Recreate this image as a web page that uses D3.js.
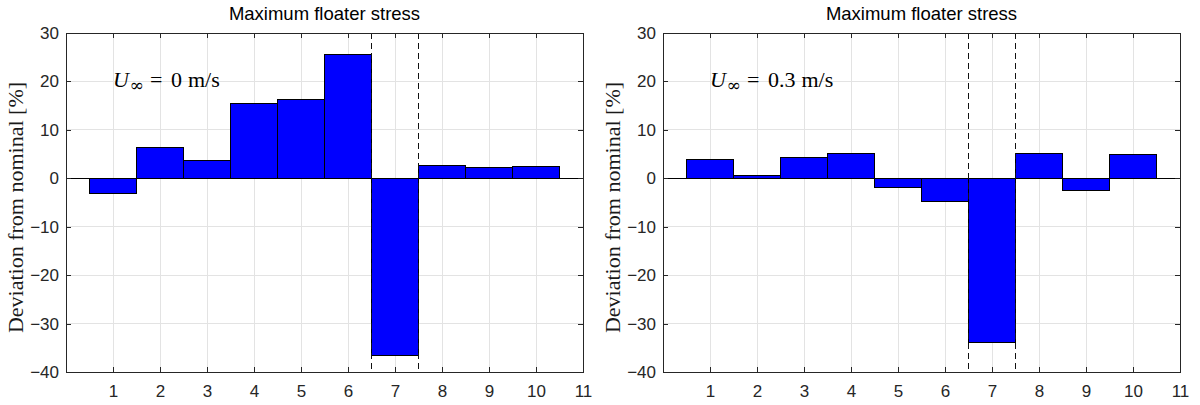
<!DOCTYPE html>
<html>
<head>
<meta charset="utf-8">
<script src="https://cdn.jsdelivr.net/npm/d3@7"></script>
<style>
  html, body { margin: 0; padding: 0; background: #fff; }
  svg { display: block; }
</style>
</head>
<body>
<svg id="chart" width="1200" height="405"></svg>
<script>
// Floater positions along the structure
const categories = [1, 2, 3, 4, 5, 6, 7, 8, 9, 10];
// Deviation of maximum floater stress from the nominal case [%]
const deviationStill = [-3.1, 6.4, 3.7, 15.4, 16.2, 25.5, -36.5, 2.6, 2.3, 2.4];
const deviationCurrent = [3.8, 0.6, 4.2, 5.1, -1.9, -4.8, -34.0, 5.1, -2.5, 4.9];
// Current speeds shown in the annotations
const currentSpeeds = ["0", "0.3"];
const panelTitles = ["Maximum floater stress", "Maximum floater stress"];
const xTicks = [1, 2, 3, 4, 5, 6, 7, 8, 9, 10, 11];
const yTicks = [-40, -30, -20, -10, 0, 10, 20, 30];
const xDomain = [0, 11];
const yDomain = [-40, 30];
// Edges of the highlighted floater
const highlightEdges = [6.5, 7.5];
const yLabel = "Deviation from nominal [%]";

const svg = d3.select("#chart");
svg.append("rect").attr("width", 1200).attr("height", 405).attr("fill", "#fff");

const axisColor = "#262626";
const sans = "'Liberation Sans', Arial, Helvetica, sans-serif";
const serif = "'Liberation Serif', 'Times New Roman', serif";

const panels = [
  { left: 66, right: 583, values: deviationStill, speed: currentSpeeds[0], title: panelTitles[0] },
  { left: 663, right: 1180, values: deviationCurrent, speed: currentSpeeds[1], title: panelTitles[1] }
];
const plotTop = 33, plotBottom = 372;

panels.forEach(p => {
  const x = d3.scaleLinear().domain(xDomain).range([p.left, p.right]);
  const y = d3.scaleLinear().domain(yDomain).range([plotBottom, plotTop]);
  const g = svg.append("g");

  // grid
  g.append("g").selectAll("line").data(xTicks.filter(t => t > xDomain[0] && t < xDomain[1]))
    .join("line")
    .attr("x1", d => x(d)).attr("x2", d => x(d))
    .attr("y1", plotTop).attr("y2", plotBottom)
    .attr("stroke", "#e3e3e3").attr("stroke-width", 1)
    .attr("shape-rendering", "crispEdges");
  g.append("g").selectAll("line").data(yTicks.filter(t => t > yDomain[0] && t < yDomain[1]))
    .join("line")
    .attr("x1", p.left).attr("x2", p.right)
    .attr("y1", d => y(d)).attr("y2", d => y(d))
    .attr("stroke", "#e3e3e3").attr("stroke-width", 1)
    .attr("shape-rendering", "crispEdges");

  // bars
  g.append("g").selectAll("rect").data(categories.map((c, i) => ({ c, v: p.values[i] })))
    .join("rect")
    .attr("x", d => x(d.c - 0.5))
    .attr("width", d => x(d.c + 0.5) - x(d.c - 0.5))
    .attr("y", d => y(Math.max(0, d.v)))
    .attr("height", d => Math.abs(y(d.v) - y(0)))
    .attr("fill", "#0000ff")
    .attr("stroke", "#000").attr("stroke-width", 1)
    .attr("shape-rendering", "crispEdges");

  // baseline
  g.append("line")
    .attr("x1", p.left).attr("x2", p.right)
    .attr("y1", y(0)).attr("y2", y(0))
    .attr("stroke", "#000").attr("stroke-width", 1)
    .attr("shape-rendering", "crispEdges");

  // highlighted floater edges
  g.append("g").selectAll("line").data(highlightEdges)
    .join("line")
    .attr("x1", d => x(d)).attr("x2", d => x(d))
    .attr("y1", plotTop).attr("y2", plotBottom)
    .attr("stroke", "#111").attr("stroke-width", 1)
    .attr("stroke-dasharray", "6,4")
    .attr("shape-rendering", "crispEdges");

  // axes box with inward ticks on all sides
  const styleAxis = sel => {
    sel.select(".domain").remove();
    sel.selectAll(".tick line").attr("stroke", axisColor).attr("shape-rendering", "crispEdges");
    sel.selectAll(".tick text").attr("fill", axisColor)
      .style("font-family", sans).style("font-size", "17px");
  };
  g.append("g").attr("transform", `translate(0,${plotBottom})`)
    .call(d3.axisBottom(x).tickValues(xTicks).tickFormat(d3.format("d")).tickSizeInner(-5).tickPadding(13))
    .call(styleAxis);
  g.append("g").attr("transform", `translate(0,${plotTop})`)
    .call(d3.axisTop(x).tickValues(xTicks).tickFormat("").tickSizeInner(-5))
    .call(styleAxis);
  g.append("g").attr("transform", `translate(${p.left},0)`)
    .call(d3.axisLeft(y).tickValues(yTicks).tickFormat(d3.format("d")).tickSizeInner(-5).tickPadding(7))
    .call(styleAxis);
  g.append("g").attr("transform", `translate(${p.right},0)`)
    .call(d3.axisRight(y).tickValues(yTicks).tickFormat("").tickSizeInner(-5))
    .call(styleAxis);

  g.append("rect")
    .attr("x", p.left).attr("y", plotTop)
    .attr("width", p.right - p.left).attr("height", plotBottom - plotTop)
    .attr("fill", "none").attr("stroke", axisColor).attr("stroke-width", 1)
    .attr("shape-rendering", "crispEdges");

  // title
  g.append("text")
    .attr("x", (p.left + p.right) / 2).attr("y", 20)
    .attr("text-anchor", "middle")
    .style("font-family", sans).style("font-size", "18.5px")
    .attr("fill", "#000")
    .text(p.title);

  // y label
  g.append("text")
    .attr("transform", `translate(${p.left - 43},${(plotTop + plotBottom) / 2 + 5}) rotate(-90)`)
    .attr("text-anchor", "middle")
    .style("font-family", serif).style("font-size", "22px")
    .attr("fill", "#1a1a1a")
    .text(yLabel);

  // current speed annotation: U with subscript infinity
  const ax = x(1), ay = y(20) + 6;
  const t = g.append("text").attr("x", ax).attr("y", ay)
    .style("font-family", serif).style("font-size", "22px").attr("fill", "#000");
  t.append("tspan").attr("x", ax).style("font-style", "italic").text("U");
  t.append("tspan").attr("x", ax + 16.5).attr("dy", 4)
    .style("font-family", "'DejaVu Serif', serif").style("font-size", "17px").text("∞");
  t.append("tspan").attr("x", ax + 37).attr("dy", -4).text("=");
  const val = t.append("tspan").attr("x", ax + 58).text(p.speed);
  const w = val.node().getComputedTextLength();
  t.append("tspan").attr("x", ax + 58 + w + 6).text("m/s");
});
</script>
</body>
</html>
